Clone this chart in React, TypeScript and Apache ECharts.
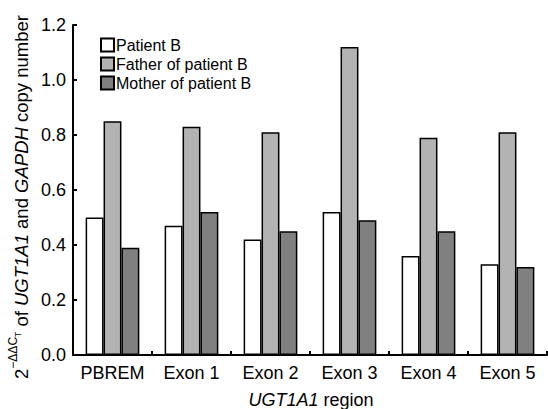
import React, { useEffect, useRef } from "react";
import * as echarts from "echarts";

const categories = ["PBREM", "Exon 1", "Exon 2", "Exon 3", "Exon 4", "Exon 5"];
const patientB = [0.5, 0.47, 0.42, 0.52, 0.36, 0.33];
const fatherB = [0.85, 0.83, 0.81, 1.12, 0.79, 0.81];
const motherB = [0.39, 0.52, 0.45, 0.49, 0.45, 0.32];
const seriesNames = ["Patient B", "Father of patient B", "Mother of patient B"];
const seriesColors = ["#ffffff", "#b3b3b3", "#808080"];

const FONT = "'Liberation Sans', Arial, sans-serif";

export default function App() {
  const ref = useRef<HTMLDivElement>(null);
  useEffect(() => {
    if (!ref.current) return;
    const chart = echarts.init(ref.current, undefined, { renderer: "svg" });
    const data = [patientB, fatherB, motherB];
    chart.setOption({
      animation: false,
      backgroundColor: "#ffffff",
      textStyle: { fontFamily: FONT },
      legend: {
        orient: "vertical",
        left: 95,
        top: 32,
        icon: "rect",
        itemWidth: 13,
        itemHeight: 13,
        itemGap: 3,
        textStyle: { fontFamily: FONT, fontSize: 16, color: "#000", padding: [0, 0, 0, -3] },
        data: seriesNames,
      },
      graphic: [
        {
          type: "text",
          x: 19,
          y: 197,
          rotation: Math.PI / 2,
          silent: true,
          style: {
            text: "{a|2}{b|−ΔΔC}{c|T}{a| of }{i|UGT1A1}{a| and }{i|GAPDH}{a| copy number}",
            align: "center",
            verticalAlign: "middle",
            rich: {
              a: { fontFamily: FONT, fontSize: 18.5, fill: "#000", verticalAlign: "bottom", lineHeight: 24 },
              i: { fontFamily: FONT, fontSize: 18.5, fontStyle: "italic", fill: "#000", verticalAlign: "bottom", lineHeight: 24 },
              b: { fontFamily: FONT, fontSize: 12, fill: "#000", verticalAlign: "top", lineHeight: 24 },
              c: { fontFamily: FONT, fontSize: 8.5, fill: "#000", verticalAlign: "top", lineHeight: 24, padding: [6, 0, 0, 0] },
            },
          },
        },
        {
          type: "text",
          x: 311,
          y: 400,
          silent: true,
          style: {
            text: "{i|UGT1A1}{a| region}",
            align: "center",
            verticalAlign: "middle",
            rich: {
              i: { fontFamily: FONT, fontSize: 18, fontStyle: "italic", fill: "#000" },
              a: { fontFamily: FONT, fontSize: 18, fill: "#000" },
            },
          },
        },
      ],
      grid: { left: 73, right: 1, top: 25, bottom: 54, containLabel: false, outerBoundsMode: "none" },
      xAxis: {
        type: "category",
        data: categories,
        axisLine: { lineStyle: { color: "#000", width: 2 } },
        axisTick: { show: true, inside: true, length: 4, lineStyle: { color: "#000", width: 2 } },
        axisLabel: { fontFamily: FONT, fontSize: 18, color: "#000", margin: 9, interval: 0 },
      },
      yAxis: {
        type: "value",
        min: 0,
        max: 1.2,
        interval: 0.2,
        axisLine: { show: true, lineStyle: { color: "#000", width: 2 } },
        axisTick: { show: true, inside: true, length: 4, lineStyle: { color: "#000", width: 2 } },
        splitLine: { show: false },
        axisLabel: {
          fontFamily: FONT,
          fontSize: 18,
          color: "#000",
          margin: 7,
          formatter: (v: number) => v.toFixed(1),
        },
      },
      series: data.map((d, i) => ({
        name: seriesNames[i],
        type: "bar",
        data: d,
        barGap: 0,
        barCategoryGap: "32%",
        itemStyle: { color: seriesColors[i], borderColor: "#000", borderWidth: 1.5 },
      })),
    });
    return () => chart.dispose();
  }, []);
  return <div ref={ref} style={{ width: 548, height: 409, position: "absolute", left: 0, top: 0 }} />;
}
